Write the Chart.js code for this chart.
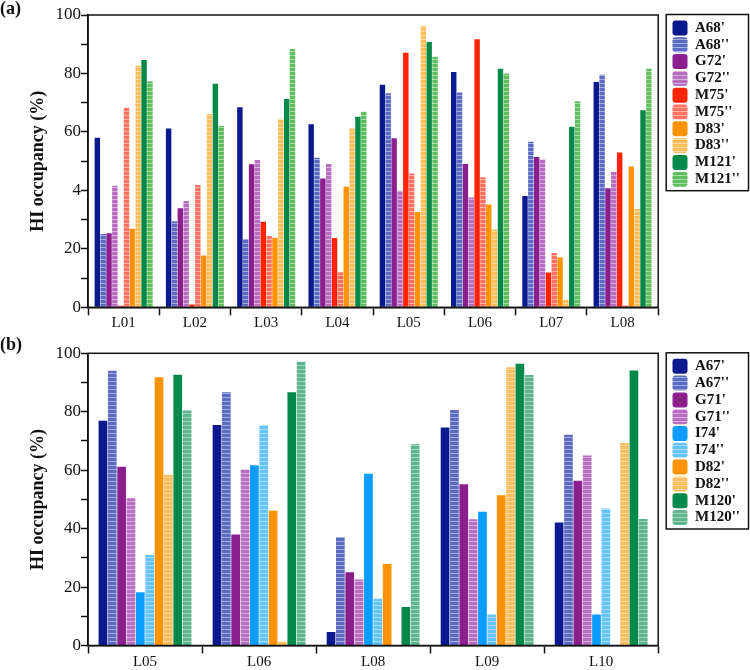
<!DOCTYPE html>
<html>
<head>
<meta charset="utf-8">
<script src="https://cdn.jsdelivr.net/npm/chart.js@4.4.1/dist/chart.umd.min.js"></script>
<style>
  html, body { margin: 0; padding: 0; background: #fff; }
  body { width: 750px; height: 670px; position: relative; overflow: hidden; }
  .panel { position: absolute; left: 0; width: 750px; height: 340px; }
  #panel-a { top: 0; }
  #panel-b { top: 330px; }
</style>
</head>
<body>
<div class="panel" id="panel-a"><canvas id="chart-a"></canvas></div>
<div class="panel" id="panel-b"><canvas id="chart-b"></canvas></div>
<script>
// ---- data, panel (a) ----
const labelsA = ['L01', 'L02', 'L03', 'L04', 'L05', 'L06', 'L07', 'L08'];
const namesA = ["A68'", "A68''", "G72'", "G72''", "M75'", "M75''", "D83'", "D83''", "M121'", "M121''"];
const a68p  = [58.0, 61.2, 68.4, 62.6, 76.1, 80.5, 38.1, 77.1];
const a68pp = [25.1, 29.4, 23.4, 51.2, 73.2, 73.5, 56.6, 79.6];
const g72p  = [25.3, 33.9, 48.9, 44.1, 57.8, 49.0, 51.4, 40.7];
const g72pp = [41.6, 36.4, 50.4, 49.1, 39.9, 37.6, 50.6, 46.4];
const m75p  = [0.5, 1.0, 29.3, 23.7, 87.1, 91.7, 11.9, 53.0];
const m75pp = [68.3, 41.8, 24.4, 12.0, 45.8, 44.5, 18.6, 0.6];
const d83p  = [26.9, 17.7, 23.8, 41.2, 32.6, 35.2, 17.0, 48.2];
const d83pp = [82.6, 66.1, 64.3, 61.2, 96.2, 26.6, 2.6, 33.6];
const m121p  = [84.6, 76.5, 71.3, 65.2, 90.8, 81.6, 61.8, 67.4];
const m121pp = [77.3, 62.0, 88.4, 66.9, 85.7, 80.0, 70.5, 81.6];
const yTickLabelsA = ['0', '20', '4', '60', '80', '100'];

// ---- data, panel (b) ----
const labelsB = ['L05', 'L06', 'L08', 'L09', 'L10'];
const namesB = ["A67'", "A67''", "G71'", "G71''", "I74'", "I74''", "D82'", "D82''", "M120'", "M120''"];
const a67p  = [76.9, 75.5, 4.6, 74.6, 42.1];
const a67pp = [94.0, 86.7, 37.1, 80.6, 72.1];
const g71p  = [61.2, 38.0, 25.1, 55.2, 56.4];
const g71pp = [50.4, 60.2, 22.6, 43.2, 65.0];
const i74p  = [18.2, 61.7, 58.8, 45.8, 10.6];
const i74pp = [31.0, 75.4, 16.0, 10.6, 46.9];
const d82p  = [91.8, 46.1, 27.9, 51.4, 0];
const d82pp = [58.4, 1.3, 0, 95.2, 69.3];
const m120p  = [92.7, 86.7, 13.2, 96.4, 94.1];
const m120pp = [80.4, 97.1, 68.9, 92.6, 43.3];
const yTickLabelsB = ['0', '20', '40', '60', '80', '100'];

// colours (single prime = solid, double prime = lighter + striped)
const coloursA = ['#0a1a8e', '#5b6bc2', '#8c1f8e', '#b76dc0', '#ff2400', '#ff7262', '#ff9200', '#ffbd5c', '#05894a', '#5fbf5f'];
const coloursB = ['#0a1a8e', '#5b6bc2', '#8c1f8e', '#b76dc0', '#0b9cff', '#63c3ff', '#ff9200', '#ffbd5c', '#05894a', '#5db58d'];

const SERIF = '"Liberation Serif", "Times New Roman", serif';

function hatch(color) {
    const c = document.createElement('canvas');
    c.width = 4; c.height = 4;
    const g = c.getContext('2d');
    g.fillStyle = color;
    g.fillRect(0, 0, 4, 4);
    g.fillStyle = 'rgba(255,255,255,0.45)';
    g.fillRect(0, 3, 4, 1);
    return g.createPattern(c, 'repeat');
}

function makeDatasets(names, series, colours) {
    return names.map((name, i) => {
        const striped = name.endsWith("''");
        return {
            label: name,
            data: series[i],
            backgroundColor: striped ? hatch(colours[i]) : colours[i],
            borderWidth: 0,
            categoryPercentage: 0.82,
            barPercentage: 0.93
        };
    });
}

// frame round the plot, box round the legend, panel letter
const framePlugin = {
    id: 'frame',
    afterDraw(chart, args, opts) {
        const {ctx, chartArea: a, legend} = chart;
        ctx.save();
        ctx.strokeStyle = '#111';
        ctx.lineWidth = 1.5;
        ctx.strokeRect(a.left, a.top, a.right - a.left, a.bottom - a.top);
        const boxes = legend.legendHitBoxes;
        const last = boxes[boxes.length - 1];
        const x0 = legend.left - 4.5, y0 = legend.top - 0.5;
        ctx.strokeRect(x0, y0, legend.right - 1.5 - x0, last.top + last.height + 4 - y0);
        ctx.fillStyle = '#111';
        ctx.font = 'bold 18px ' + SERIF;
        ctx.textBaseline = 'middle';
        ctx.textAlign = 'left';
        ctx.fillText(opts.text, 0, opts.y);
        ctx.restore();
    }
};

function makeChart(id, labels, datasets, tickLabels, pad, letter, letterY) {
    const ctx = document.getElementById(id).getContext('2d');
    return new Chart(ctx, {
        type: 'bar',
        data: { labels: labels, datasets: datasets },
        plugins: [framePlugin],
        options: {
            responsive: true,
            maintainAspectRatio: false,
            animation: false,
            layout: { padding: pad },
            scales: {
                x: {
                    grid: { display: true, drawOnChartArea: false, offset: true, tickLength: 8, tickColor: '#111', tickWidth: 1.5 },
                    border: { color: '#111', width: 1.5 },
                    ticks: { color: '#111', padding: 0, maxRotation: 0, autoSkip: false,
                             font: { family: SERIF, size: 15, lineHeight: 1.1 } }
                },
                y: {
                    min: 0, max: 100,
                    grid: { display: true, drawOnChartArea: false, tickLength: 7, tickColor: '#111', tickWidth: 1.5 },
                    border: { color: '#111', width: 1.5 },
                    ticks: {
                        stepSize: 10, padding: 0, color: '#111',
                        font: { family: SERIF, size: 17 },
                        callback: v => (v % 20 === 0 ? tickLabels[v / 20] : '')
                    },
                    title: {
                        display: true, text: 'HI occupancy (%)', color: '#111',
                        font: { family: SERIF, size: 18, weight: 'bold' },
                        padding: { top: 0, bottom: 6.7 }
                    }
                },
                yGap: {
                    type: 'linear', position: 'right', min: 0, max: 100,
                    grid: { display: true, drawOnChartArea: false, tickLength: 12.5, tickColor: 'rgba(0,0,0,0)' },
                    border: { display: false },
                    ticks: { display: false }
                }
            },
            plugins: {
                frame: { text: letter, y: letterY },
                tooltip: { enabled: false },
                legend: {
                    position: 'right',
                    align: 'start',
                    fullSize: false,
                    title: { display: true, text: '', font: { size: 3.7, lineHeight: 1 }, padding: 0 },
                    labels: {
                        color: '#111',
                        font: { family: SERIF, size: 15, weight: 'bold' },
                        boxWidth: 15,
                        boxHeight: 15,
                        padding: 1.8,
                        useBorderRadius: true,
                        borderRadius: 3
                    }
                }
            }
        }
    });
}

document.addEventListener('DOMContentLoaded', function() {
    makeChart('chart-a', labelsA,
        makeDatasets(namesA, [a68p, a68pp, g72p, g72pp, m75p, m75pp, d83p, d83pp, m121p, m121pp], coloursA),
        yTickLabelsA, { top: 15, bottom: 8.2, left: 27.2, right: 0 }, '(a)', 9);
    makeChart('chart-b', labelsB,
        makeDatasets(namesB, [a67p, a67pp, g71p, g71pp, i74p, i74pp, d82p, d82pp, m120p, m120pp], coloursB),
        yTickLabelsB, { top: 23.3, bottom: 0, left: 27.2, right: 0 }, '(b)', 15);
});
</script>
</body>
</html>
